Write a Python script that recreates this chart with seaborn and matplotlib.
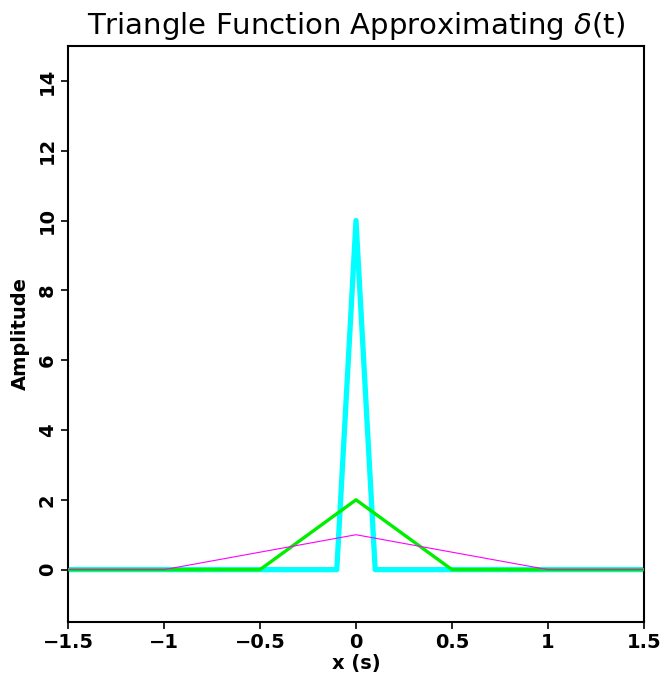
import matplotlib
matplotlib.use("Agg")
import matplotlib.pyplot as plt
import seaborn as sns

# Data
x_wide = [-1.5, -1.0, 0.0, 1.0, 1.5]
y_wide = [0.0, 0.0, 1.0, 0.0, 0.0]
x_mid = [-1.5, -0.5, 0.0, 0.5, 1.5]
y_mid = [0.0, 0.0, 2.0, 0.0, 0.0]
x_narrow = [-1.5, -0.1, 0.0, 0.1, 1.5]
y_narrow = [0.0, 0.0, 10.0, 0.0, 0.0]

xticks = [-1.5, -1.0, -0.5, 0.0, 0.5, 1.0, 1.5]
xticklabels = ["\u22121.5", "\u22121", "\u22120.5", "0", "0.5", "1", "1.5"]
yticks = [0, 2, 4, 6, 8, 10, 12, 14]
yticklabels = ["0", "2", "4", "6", "8", "10", "12", "14"]

sns.set_theme(style="ticks")
plt.rcParams['font.family'] = ['DejaVu Sans']
plt.rcParams['text.color'] = 'black'
plt.rcParams['axes.labelcolor'] = 'black'

fig = plt.figure(figsize=(6.62, 6.81), dpi=100)
ax = fig.add_axes([68/662, 1-622/681, (644-68)/662, (622-46)/681])

sns.lineplot(x=x_narrow, y=y_narrow, ax=ax, color="#00ffff", linewidth=3.8,
             estimator=None, sort=False, zorder=2)
sns.lineplot(x=x_mid, y=y_mid, ax=ax, color="#00ee00", linewidth=2.4,
             estimator=None, sort=False, zorder=3)
sns.lineplot(x=x_wide, y=y_wide, ax=ax, color="#ff00ff", linewidth=0.8,
             estimator=None, sort=False, zorder=4)

ax.set_xlim(-1.5, 1.5)
ax.set_ylim(-1.5, 15)
ax.set_xticks(xticks)
ax.set_xticklabels(xticklabels, fontsize=14, fontweight="bold", color="black")
ax.set_yticks(yticks)
ax.set_yticklabels(yticklabels, fontsize=14, fontweight="bold", rotation=90,
                   va="center", color="black")
ax.tick_params(axis="both", direction="out", length=5, width=1.2, colors="black", pad=3)
ax.tick_params(top=False, right=False)
for s in ax.spines.values():
    s.set_linewidth(1.5)
    s.set_color("black")
    s.set_visible(True)

ax.set_xlabel("x (s)", fontsize=14, fontweight="bold", labelpad=1, color="black")
ax.set_ylabel("Amplitude", fontsize=14, fontweight="bold", labelpad=6, color="black")
ax.set_title(r"Triangle Function Approximating $\delta$(t)", fontsize=21, pad=9,
             color="black")

fig.savefig("out.png", dpi=100)
